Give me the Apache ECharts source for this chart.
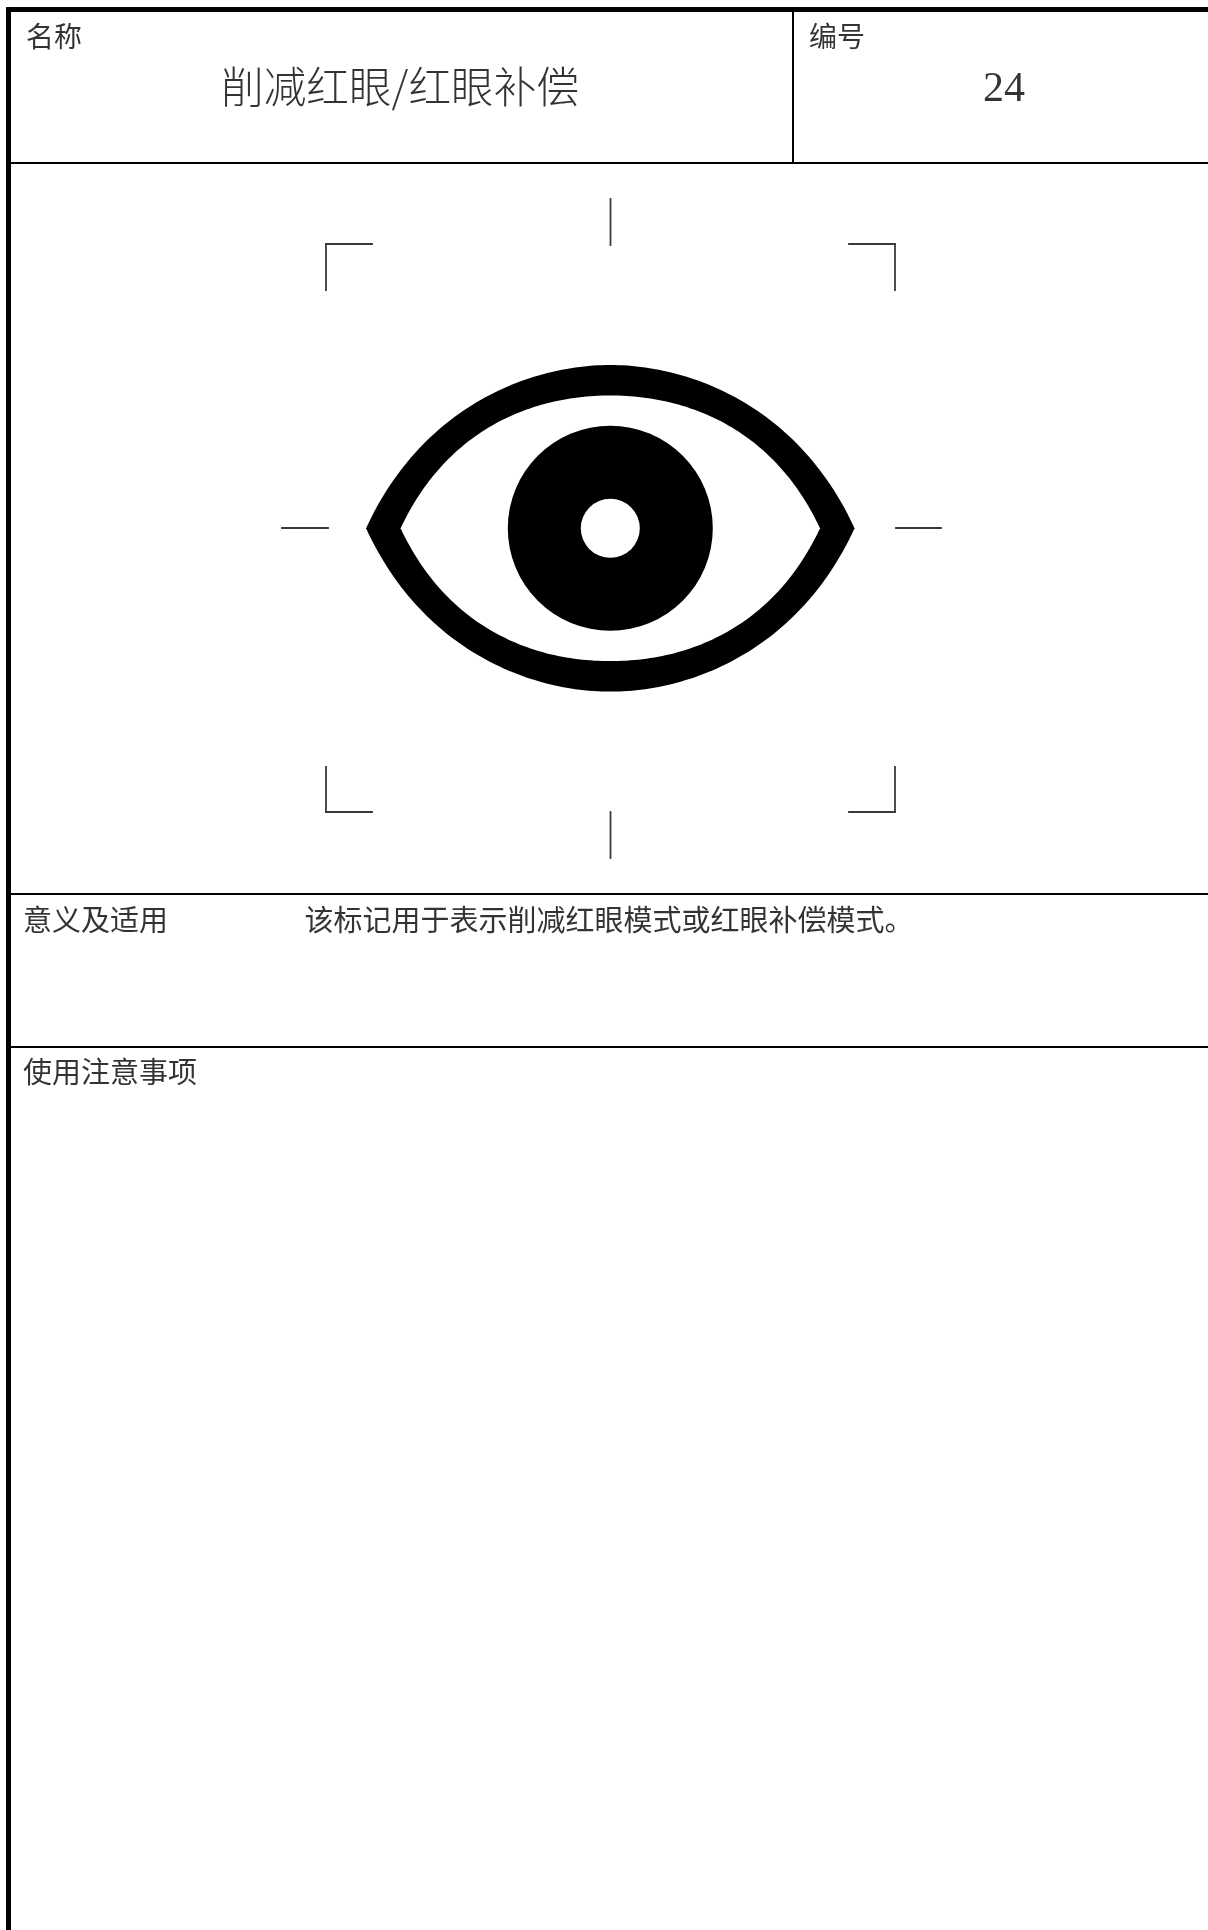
<!DOCTYPE html>
<html><head><meta charset="utf-8">
<style>html,body{margin:0;padding:0;background:#fff}#c{width:1208px;height:1930px}</style>
<script src="https://cdn.jsdelivr.net/npm/echarts@6/dist/echarts.min.js"></script></head>
<body><div id="c"></div>
<script>
// page units = plot units of the hidden axes
const frameRules   = [[8.5,7,8.5,1930,5],[6,9.5,1208,9.5,5],[6,163,1208,163,2],[793,9,793,163,2],[6,894,1208,894,2],[6,1047,1208,1047,2]];
const targetMarks  = [[326,244,372,244],[326,244,326,290],[849,244,895,244],[895,244,895,290],
                      [326,812,372,812],[326,767,326,812],[849,812,895,812],[895,767,895,812],
                      [610.5,199,610.5,245],[610.5,812,610.5,858],[282,528,328,528],[896,528,941,528]];
const eyeCentre    = [610.3,528.3];
// half-width, half-height, corner handle x, corner handle y, top handle
const eyeOuter     = [244.2,163.3,54,118.3,85];
const eyeInner     = [209.7,132.8,46,98,80];
const pupil        = [102.5,29.5];
const labelTexts   = ['名称','编号','意义及适用','使用注意事项','该标记用于表示削减红眼模式或红眼补偿模式。'];
const titleText    = ['削减红眼/红眼补偿'];
const numberText   = ['24'];
const labelAt      = [[26,36.5,28],[809,36.5,28],[23,919.5,29],[23,1072,29],[304.5,919.5,29]];
const titleAt      = [[221,87,42.67]];
const numberAt     = [[983,90,42]];
const cjk = '"Noto Sans CJK SC",sans-serif';
const latin = '"Liberation Serif",serif';

const chart = echarts.init(document.getElementById('c'),null,{renderer:'canvas'});

function eyePoints(api,c,o){
  const [w,h,hx,hy,tx]=o;
  const ctrl=[[-w,0],[-w+hx,-hy],[-tx,-h],[0,-h],[tx,-h],[w-hx,-hy],[w,0],
              [w-hx,hy],[tx,h],[0,h],[-tx,h],[-w+hx,hy],[-w,0]];
  const pts=[];
  for(let i=0;i+3<ctrl.length;i+=3){
    const [a,b,d,e]=[ctrl[i],ctrl[i+1],ctrl[i+2],ctrl[i+3]];
    for(let k=0;k<60;k++){
      const t=k/60,u=1-t;
      const f=j=>u*u*u*a[j]+3*u*u*t*b[j]+3*u*t*t*d[j]+t*t*t*e[j];
      pts.push(api.coord([c[0]+f(0),c[1]+f(1)]));
    }
  }
  return pts;
}
function circle(api,c,r,fill){
  const p=api.coord(c); const s=api.size([r,0])[0];
  return {type:'circle',shape:{cx:p[0],cy:p[1],r:s},style:{fill:fill}};
}
const seg=(api,st)=>{
  const a=api.coord([api.value(0),api.value(1)]),b=api.coord([api.value(2),api.value(3)]);
  return {type:'line',shape:{x1:a[0],y1:a[1],x2:b[0],y2:b[1]},style:st};
};
const textSeries=(at,texts,family,weight)=>({type:'scatter',coordinateSystem:'cartesian2d',silent:true,symbolSize:0,
  data:at.map((a,i)=>({value:[a[0],a[1]],label:{show:true,position:'right',distance:0,
    formatter:texts[i],fontSize:a[2],fontFamily:family,fontWeight:weight,color:'#000'}}))});
chart.setOption({
  animation:false,backgroundColor:'#fff',
  grid:{left:0,right:0,top:0,bottom:0},
  xAxis:{type:'value',min:0,max:1208,show:false},
  yAxis:{type:'value',min:0,max:1930,inverse:true,show:false},
  series:[
    {type:'custom',coordinateSystem:'cartesian2d',clip:false,silent:true,data:frameRules,
      encode:{x:[0,2],y:[1,3]},
      renderItem:(p,api)=>seg(api,{stroke:'#000',lineWidth:api.value(4),lineCap:'butt'})},
    {type:'custom',coordinateSystem:'cartesian2d',clip:false,silent:true,data:targetMarks,
      encode:{x:[0,2],y:[1,3]},
      renderItem:(p,api)=>seg(api,{stroke:'#3a3a3a',lineWidth:1.8,lineCap:'square',fill:null})},
    {type:'custom',coordinateSystem:'cartesian2d',clip:false,silent:true,data:[eyeCentre],
      encode:{x:0,y:1},
      renderItem:(p,api)=>({type:'group',children:[
        {type:'polygon',shape:{points:eyePoints(api,eyeCentre,eyeOuter)},style:{fill:'#000'}},
        {type:'polygon',shape:{points:eyePoints(api,eyeCentre,eyeInner)},style:{fill:'#fff'}},
        circle(api,eyeCentre,pupil[0],'#000'),
        circle(api,eyeCentre,pupil[1],'#fff')
      ]})},
    textSeries(labelAt,labelTexts,cjk,400),
    textSeries(titleAt,titleText,cjk,300),
    textSeries(numberAt,numberText,latin,400)
  ]
});
</script></body></html>
